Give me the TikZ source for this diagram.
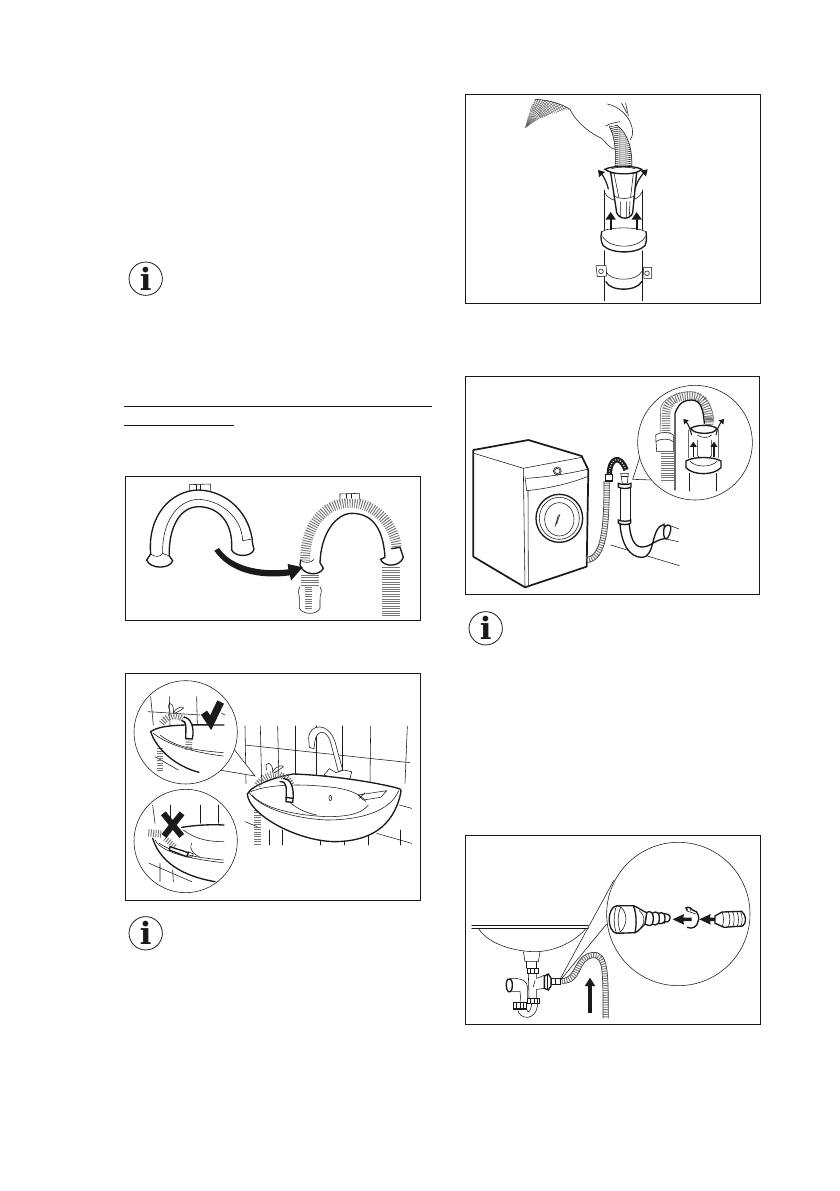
\documentclass[tikz,border=0pt]{standalone}
\usepackage{fontspec}
\usetikzlibrary{arrows.meta}
\newfontfamily\iconfont{DejaVu Serif}
\definecolor{Ink}{HTML}{1A1A1A}
\tikzset{
  frame/.style={draw=Ink,line width=0.75pt},
  thick line/.style={draw=Ink,line width=1.0pt,line cap=round},
  thinline/.style={draw=Ink,line width=0.42pt,line cap=round},
  hairline/.style={draw=Ink!70,line width=0.3pt},
  ribs/.style={draw=Ink!60,line width=#1,dash pattern=on 0.7pt off 1.1pt},
  blackarrow/.style={draw=Ink,line width=#1,-{Triangle[length=2.2mm,width=2.6mm]}},
  infoicon/.style={circle,draw=Ink,line width=0.6pt,minimum size=25pt,inner sep=0pt,text=Ink,
    font=\iconfont\bfseries\fontsize{23}{23}\selectfont},
  crop/.style 2 args={shift={(#1,#2)},x=0.25pt,y=-0.25pt}
}
\begin{document}
\begin{tikzpicture}[x=0.75pt,y=-0.75pt,>=stealth]
\useasboundingbox (0,0) rectangle (839,1191);
\node[infoicon] (infoA) at (145.7,278.7) {i};
\node[infoicon] (infoB) at (145.7,933.3) {i};
\node[infoicon] (infoC) at (485.7,628.3) {i};
\draw[line width=0.6pt,Ink] (124.3,406) -- (431.7,406);
\draw[line width=0.6pt,Ink] (124.3,425.3) -- (234,425.3);
% hose bend, loose and mounted
\begin{scope}[crop={120}{470}]
\draw[frame] (17,18) rectangle (900,452);
\draw[thinline,fill=white] (208,60) -- (208,44) -- (272,42) -- (272,62);
\draw[thinline] (228,44) -- (228,60) (240,44) -- (240,60);
\draw[thick line,fill=white] (92,252) .. controls (82,140) and (150,62) .. (235,60) .. controls (320,62) and (392,130) .. (398,222) -- (402,238) .. controls (395,262) and (345,262) .. (335,240) .. controls (340,150) and (290,110) .. (235,110) .. controls (170,112) and (145,190) .. (148,258) -- (158,272) .. controls (150,298) and (90,298) .. (80,270) -- cycle;
\draw[thinline] (128,250) .. controls (125,160) and (170,90) .. (235,88) .. controls (300,90) and (365,140) .. (368,212) -- (392,208);
\draw[thinline] (92,252) .. controls (105,262) and (120,262) .. (128,250) -- (148,258);
\draw[ribs=7.5pt] (555,272) .. controls (555,170) and (610,98) .. (690,98) .. controls (770,98) and (825,170) .. (830,232);
\draw[thinline,fill=white] (660,85) -- (660,72) -- (718,70) -- (718,88);
\draw[thinline] (680,72) -- (680,85) (695,72) -- (695,85);
\draw[thick line] (600,285) .. controls (600,190) and (650,130) .. (695,130) .. controls (760,130) and (790,180) .. (795,262);
\draw[thick line,fill=white] (542,270) -- (540,285) .. controls (550,318) and (600,318) .. (610,295) -- (600,278);
\draw[thinline] (542,270) .. controls (550,280) and (575,280) .. (582,268);
\draw[thick line,fill=white] (795,262) -- (782,268) .. controls (790,292) and (840,292) .. (850,262) -- (840,232) -- (815,236);
\draw[ribs=14pt] (570,315) -- (570,350);
\draw[thinline,fill=white] (540,350) .. controls (530,365) and (540,375) .. (538,390) -- (538,415) .. controls (550,435) and (590,435) .. (600,415) -- (600,390) .. controls (598,375) and (610,365) .. (600,350);
\draw[ribs=5.6pt] (565,350) -- (565,420);
\draw[ribs=13.5pt] (812,292) -- (812,438);
\fill[Ink] (283,242) -- (297,234) .. controls (335,290) and (420,308) .. (505,298) -- (503,282) -- (548,292) -- (513,332) -- (510,316) .. controls (420,328) and (330,310) .. cycle;
\end{scope}
% basin with two close-ups
\begin{scope}[crop={120}{670}]
\draw[frame] (16,11) rectangle (900,690);
% tiles
\foreach \xa/\xb in {375/378,421/425,473/477,527/527,590/590,668/668,752/750,862/855} \draw[thinline] (\xa,168) -- (\xb,340);
\draw[thinline] (375,225) -- (870,278);
\draw[thinline] (838,405) -- (875,415) (375,455) -- (412,470) (770,490) -- (875,520);
\foreach \xa in {447,487,600,672,745,840} \draw[thinline] (\xa,480) -- (\xa,525);
\draw[ribs=5pt] (412,420) -- (412,525);
% tap
\draw[thinline,fill=white] (568,232) -- (566,205) .. controls (568,160) and (625,155) .. (645,215) -- (668,300) -- (655,305) -- (632,218) .. controls (620,175) and (590,180) .. (585,212) -- (582,236) -- cycle;
\draw[thinline,fill=white] (612,315) -- (628,296) -- (648,308) -- (672,300) -- (695,305) -- (690,325) -- (675,345) -- (650,348) -- (640,325) -- cycle;
\draw[thick line,fill=white] (382,372) .. controls (395,345) and (470,320) .. (520,312) .. controls (620,315) and (760,335) .. (835,355) .. controls (845,358) and (844,362) .. (842,370) .. controls (820,470) and (750,515) .. (640,515) .. controls (520,510) and (385,430) .. (382,372) -- cycle;
\draw[thinline] (388,368) .. controls (420,415) and (520,445) .. (620,450) .. controls (720,450) and (810,425) .. (836,362);
\draw[thinline] (396,375) .. controls (430,415) and (520,435) .. (620,440) .. controls (700,440) and (730,425) .. (745,405);
\draw[thinline] (392,365) .. controls (440,345) and (530,340) .. (620,350) .. controls (680,355) and (720,370) .. (738,395);
\draw[thinline] (500,385) .. controls (515,410) and (560,430) .. (590,435);
\draw[thinline] (715,375) -- (800,362) -- (782,382) -- (730,390) -- cycle (735,368) -- (718,385);
\draw[thinline] (631,384) ellipse (4 and 8);
\draw[ribs=5pt] (412,345) .. controls (440,305) and (490,300) .. (515,345);
\draw[thinline] (440,300) .. controls (430,270) and (460,275) .. (458,305) .. controls (470,285) and (490,285) .. (490,290) .. controls (480,298) and (470,305) .. (462,308);
\draw[thick line,fill=white] (480,335) .. controls (500,335) and (500,345) .. (498,395) -- (518,397) .. controls (525,350) and (510,325) .. (490,325);
\draw[thick line] (498,382) -- (518,385);
% top close-up
\draw[thinline,fill=white] (340,235) -- (405,318) -- (298,300);
\fill[white] (197,187) circle (155);
\draw[thinline] (197,187) circle (155);
\foreach \xa/\xb in {92/100,148/150,230/232} \draw[thinline] (\xa,80) -- (\xb,165);
\draw[thinline] (85,125) -- (240,135) (105,260) -- (175,300) (305,130) -- (315,135);
\draw[ribs=5pt] (120,235) -- (120,300);
\draw[ribs=5pt] (125,160) .. controls (150,125) and (185,135) .. (205,160);
\draw[thinline] (150,125) .. controls (135,90) and (165,95) .. (160,128) .. controls (175,105) and (195,110) .. (190,115) .. controls (180,122) and (170,128) .. (162,130);
\draw[thick line] (92,185) .. controls (125,160) and (220,165) .. (312,165);
\draw[thick line] (92,185) .. controls (110,240) and (170,290) .. (237,307);
\draw[thinline] (100,190) .. controls (150,230) and (240,250) .. (310,258);
\draw[thinline] (120,195) .. controls (170,235) and (240,242) .. (310,248);
\draw[thick line,fill=white] (186,152) .. controls (200,152) and (198,170) .. (197,205) -- (217,207) .. controls (225,170) and (210,142) .. (192,142);
\draw[ribs=5pt] (207,208) -- (206,240);
\draw[Ink,line width=5.5pt,miter limit=3] (252,128) -- (272,158) -- (302,96);
% bottom close-up
\fill[white] (197,513) circle (155);
\draw[thinline] (197,513) circle (155);
\foreach \xa/\xb in {98/105,150/150,240/240,295/295} \draw[thinline] (\xa,405) -- (\xb,460);
\draw[thinline] (88,580) -- (215,635) (120,580) -- (120,635) (158,600) -- (160,635);
\draw[ribs=5.5pt] (85,488) -- (125,492);
\draw[thick line] (185,472) .. controls (230,465) and (270,463) .. (312,465);
\draw[thick line] (98,505) .. controls (125,590) and (210,622) .. (285,635);
\draw[thinline] (190,480) .. controls (230,510) and (270,515) .. (312,515);
\draw[thinline] (105,510) .. controls (130,555) and (240,570) .. (310,578);
\draw[thinline] (118,520) .. controls (170,555) and (250,565) .. (310,570);
\draw[thinline] (215,520) .. controls (205,540) and (225,555) .. (238,560);
\draw[ribs=4pt] (135,505) -- (165,530);
\draw[thick line,fill=white] (150,530) -- (205,548) -- (200,560) -- (148,540) -- cycle;
\draw[thinline] (205,545) -- (220,552) -- (215,562) -- (200,558);
\draw[Ink,line width=4.6pt] (130,430) -- (185,498) (186,430) -- (132,498);
\end{scope}
% drain pipe with hook
\begin{scope}[crop={460}{90}]
\draw[frame] (16,13) rectangle (902,640);
\begin{scope}
\clip (197,112) .. controls (205,70) and (215,45) .. (225,28) .. controls (270,30) and (305,42) .. (330,58) .. controls (280,65) and (235,85) .. cycle;
\foreach \a in {-78,-74,...,-2} \draw[hairline] (197,112) -- ++(\a:170);
\foreach \r in {55,61,...,150} \draw[hairline] (197,112) circle (\r);
\end{scope}
\draw[thinline] (225,28) .. controls (270,30) and (305,42) .. (330,58) .. controls (345,90) and (380,125) .. (425,145) .. controls (440,160) and (450,175) .. (465,178);
\draw[thinline] (442,42) .. controls (480,50) and (505,80) .. (512,100) .. controls (522,125) and (518,140) .. (510,150);
\draw[thinline] (485,40) -- (500,68) (497,40) -- (505,78) (437,108) .. controls (450,100) and (465,98) .. (480,95);
\begin{scope}
\clip (447,108) .. controls (465,140) and (468,180) .. (465,232) -- (515,232) .. controls (518,180) and (505,130) .. (470,105) -- cycle;
\foreach \y in {98,104,...,236} \draw[thinline] (440,\y) .. controls (470,\y+14) and (510,\y+14) .. (530,\y);
\end{scope}
\draw[thinline] (447,108) .. controls (465,140) and (468,180) .. (465,232) (470,105) .. controls (505,130) and (518,180) .. (515,232);
\draw[thinline] (434,300) -- (434,420) (547,300) -- (547,420);
\draw[thinline] (432,305) .. controls (450,345) and (530,345) .. (547,305);
\draw[thick line,fill=white] (452,248) -- (470,368) .. controls (478,390) and (512,390) .. (518,368) -- (530,248) -- cycle;
\draw[thinline] (462,250) -- (476,320) (520,250) -- (512,320) (460,318) .. controls (480,328) and (505,328) .. (525,318);
\draw[thinline] (482,335) -- (482,382) (500,335) -- (500,382) (510,335) -- (508,380);
\draw[thick line,fill=white] (435,238) .. controls (455,226) and (525,226) .. (545,238) .. controls (530,256) and (455,256) .. cycle;
\draw[thinline] (455,236) .. controls (475,230) and (505,230) .. (525,236);
\draw[Ink,line width=1.3pt,->,>={Triangle[length=2mm,width=2.6mm]}] (452,420) -- (452,366);
\draw[Ink,line width=1.3pt,->,>={Triangle[length=2mm,width=2.6mm]}] (530,420) -- (530,366);
\draw[Ink,line width=0.9pt,->,>={Triangle[length=1.6mm,width=2mm]}] (445,298) .. controls (440,275) and (430,258) .. (414,240);
\draw[Ink,line width=0.9pt,->,>={Triangle[length=1.6mm,width=2mm]}] (525,298) .. controls (530,275) and (545,255) .. (563,238);
\draw[thinline] (425,425) .. controls (450,410) and (530,410) .. (558,425);
\draw[thinline] (428,440) .. controls (450,478) and (535,478) .. (556,440);
\draw[thick line] (425,425) .. controls (420,445) and (425,460) .. (430,467) .. controls (455,492) and (530,492) .. (555,467) .. controls (560,455) and (560,440) .. (558,425);
\draw[thinline] (434,482) -- (434,632) (546,482) -- (546,632);
\draw[thinline,fill=white] (408,527) -- (438,527) -- (440,558) -- (412,560) -- cycle (550,532) -- (575,532) -- (575,565) -- (552,565) -- cycle;
\draw[thinline] (423,544) circle (7) (561,550) circle (7);
\draw[thinline] (438,545) .. controls (450,575) and (530,575) .. (545,545);
\draw[thick line] (438,575) .. controls (450,605) and (530,605) .. (545,575);
\end{scope}
% washing machine
\begin{scope}[crop={460}{370}]
\draw[frame] (16,18) rectangle (898,672);
\draw[Ink,line width=1.3pt,line join=round,fill=white] (40,240) -- (205,210) -- (365,258) -- (385,300) -- (380,590) -- (195,652) -- (40,560) -- cycle;
\draw[thinline] (42,250) -- (190,295) -- (365,262);
\draw[thinline] (190,295) -- (195,650) (204,362) -- (205,645);
\draw[thinline] (195,320) -- (200,362) .. controls (270,355) and (330,340) .. (382,320);
\draw[thinline] (200,325) .. controls (270,320) and (330,310) .. (382,298);
\draw[thinline] (292,303) circle (12) (292,303) circle (8);
\draw[thick line] (298,445) ellipse (70 and 72);
\draw[thinline] (298,445) ellipse (60 and 63);
\draw[thinline] (298,448) ellipse (44 and 50);
\draw[thinline] (295,435) -- (285,470) (300,432) -- (290,462);
\end{scope}
% standpipe, trap and hose
\begin{scope}[crop={600}{445}]
\draw[thinline] (32,300) -- (238,362);
\draw[thick line,fill=white] (60,238) .. controls (65,300) and (90,337) .. (125,337) .. controls (168,337) and (150,248) .. (192,238) -- (198,280) .. controls (160,285) and (155,306) .. (125,306) .. controls (100,306) and (90,270) .. (88,238) -- cycle;
\draw[thinline] (205,240) -- (237,252) (198,282) -- (235,290);
\draw[thick line,fill=white] (192,250) .. controls (195,240) and (208,236) .. (212,245) .. controls (215,255) and (205,282) .. (198,282) .. controls (190,280) and (190,262) .. (192,250) -- cycle;
\draw[thinline] (60,130) -- (60,225) (90,130) -- (90,225);
\draw[thick line,fill=white] (55,225) .. controls (65,230) and (85,230) .. (92,225) -- (92,234) .. controls (85,240) and (65,240) .. (55,234) -- cycle;
\draw[thick line,fill=white] (55,115) .. controls (65,120) and (85,120) .. (93,115) -- (93,126) .. controls (85,132) and (65,132) .. (55,126) -- cycle;
\draw[thinline,fill=white] (62,85) -- (85,85) -- (82,115) -- (67,115) -- cycle;
\draw[thinline] (64,95) -- (84,95);
\draw[ribs=4.5pt] (-40,345) .. controls (12,340) and (20,250) .. (20,108);
\draw[Ink!80,line width=0.5pt] (-40,337) .. controls (4,332) and (12,250) .. (12,108) (-40,353) .. controls (20,348) and (28,250) .. (28,108);
\draw[Ink,line width=4pt] (28,88) .. controls (28,40) and (60,25) .. (78,75);
\draw[white,line width=0.8pt,dash pattern=on 0.8pt off 1.2pt] (28,88) .. controls (28,40) and (60,25) .. (78,75);
\draw[thick line,fill=white] (17,88) -- (38,88) -- (38,108) -- (17,108) -- cycle;
\end{scope}
% callout on the standpipe
\begin{scope}[crop={460}{370}]
\draw[thinline,fill=white] (540,260) -- (518,328) -- (578,330);
\fill[white] (705,218) circle (172);
\draw[thinline] (705,218) circle (172);
\end{scope}
\begin{scope}[crop={640}{385}]
\draw[ribs=6.6pt] (78,145) -- (78,90) .. controls (80,35) and (125,32) .. (155,32) .. controls (195,32) and (205,70) .. (207,112);
\draw[Ink!70,line width=0.4pt] (60,145) -- (62,70) .. controls (65,45) and (110,20) .. (150,20) .. controls (200,22) and (220,70) .. (222,112);
\draw[ribs=10pt] (82,205) -- (82,285);
\draw[thick line] (105,315) -- (105,85) .. controls (118,50) and (135,45) .. (155,45) .. controls (185,45) and (190,80) .. (193,115);
\draw[thinline,fill=white] (47,150) .. controls (60,140) and (90,140) .. (100,150) -- (100,200) -- (50,200) -- cycle;
\draw[thinline] (47,170) .. controls (60,160) and (90,160) .. (100,170);
\draw[thinline] (145,135) -- (145,218) (236,135) -- (236,218) (172,165) -- (172,212) .. controls (180,225) and (205,225) .. (215,212) -- (215,165);
\draw[thick line,fill=white] (152,130) .. controls (170,118) and (215,118) .. (230,130) .. controls (228,150) and (160,150) .. cycle;
\draw[thinline] (172,150) .. controls (185,160) and (205,160) .. (215,150);
\draw[ribs=6pt] (207,95) -- (208,122);
\draw[thick line,fill=white] (138,228) .. controls (160,214) and (220,214) .. (243,228) -- (243,248) .. controls (220,272) and (160,272) .. (138,248) -- cycle;
\draw[thinline] (150,228) .. controls (165,248) and (215,248) .. (232,228);
\draw[thinline] (148,265) -- (148,318) (230,265) -- (230,318);
\draw[Ink,line width=1pt,->,>={Triangle[length=1.4mm,width=1.8mm]}] (160,215) -- (160,170);
\draw[Ink,line width=1pt,->,>={Triangle[length=1.4mm,width=1.8mm]}] (222,215) -- (222,170);
\draw[Ink,line width=0.8pt,->,>={Triangle[length=1.2mm,width=1.6mm]}] (155,150) .. controls (150,130) and (145,118) .. (130,102);
\draw[Ink,line width=0.8pt,->,>={Triangle[length=1.2mm,width=1.6mm]}] (228,150) .. controls (232,130) and (238,118) .. (252,102);
\end{scope}
% hose into the basin trap
\begin{scope}[crop={460}{830}]
\draw[frame] (16,15) rectangle (900,582);
\draw[thinline] (35,285) -- (385,285) (35,295) -- (385,295);
\draw[thinline] (55,295) .. controls (90,350) and (180,365) .. (225,365) .. controls (290,365) and (350,330) .. (378,295);
\draw[ribs=3.8pt] (305,452) .. controls (360,455) and (345,380) .. (400,375) .. controls (437,375) and (437,420) .. (437,565);
\draw[Ink!85,line width=0.5pt] (305,445) .. controls (350,448) and (340,372) .. (400,367) .. controls (445,367) and (445,420) .. (445,565);
\draw[Ink!85,line width=0.5pt] (305,460) .. controls (370,462) and (350,388) .. (400,383) .. controls (429,383) and (429,420) .. (429,565);
\draw[blackarrow=2.7pt] (390,549) -- (390,443);
\end{scope}
\begin{scope}[crop={495}{950}]
\draw[thinline] (85,5) -- (90,35) (135,5) -- (130,35) (90,35) -- (130,35);
\draw[thinline] (95,35) -- (95,55) (125,35) -- (125,55);
\draw[thinline] (100,70) -- (102,145) (125,70) -- (125,85) (125,118) -- (125,145);
\draw[thinline] (125,85) -- (150,75) (125,118) -- (150,115) (120,92) -- (115,110);
\draw[thick line,fill=white] (97,56) -- (130,56) -- (130,70) -- (97,70) -- cycle;
\foreach \xa in {107,118} \draw[thinline] (\xa,56) -- (\xa,70);
\draw[thick line,fill=white] (148,78) -- (160,72) -- (168,84) -- (168,108) -- (160,120) -- (148,115) -- cycle;
\draw[thinline] (156,74) -- (156,118);
\draw[thinline,fill=white] (168,85) -- (195,85) -- (195,102) -- (168,102) -- cycle (182,85) -- (182,102);
\draw[thick line,fill=white] (38,88) .. controls (48,84) and (52,92) .. (52,105) .. controls (52,120) and (48,128) .. (40,125) .. controls (32,118) and (32,95) .. (38,88) -- cycle;
\draw[thinline] (45,85) .. controls (75,83) and (98,92) .. (98,112) -- (98,145);
\draw[thinline] (50,125) -- (75,125) -- (78,157);
\draw[thinline] (68,178) .. controls (70,208) and (125,218) .. (128,160);
\draw[thinline] (95,178) .. controls (98,192) and (108,186) .. (110,160);
\draw[thick line,fill=white] (55,158) -- (95,158) -- (95,177) -- (55,177) -- cycle;
\foreach \xa in {65,75,85} \draw[thinline] (\xa,158) -- (\xa,177);
\draw[thick line,fill=white] (97,146) -- (133,146) -- (133,160) -- (97,160) -- cycle;
\foreach \xa in {107,117,126} \draw[thinline] (\xa,146) -- (\xa,160);
\end{scope}
% callout on the hose connector
\begin{scope}[crop={460}{830}]
\draw[thinline] (300,448) -- (462,150) (300,452) -- (440,282);
\fill[white] (655,252) circle (215);
\draw[thinline] (655,252) circle (215);
\end{scope}
\begin{scope}[crop={600}{890}]
\draw[thick line,fill=white] (140,68) .. controls (148,62) and (153,66) .. (157,70) .. controls (165,64) and (170,66) .. (175,70) .. controls (183,66) and (188,68) .. (192,72) .. controls (205,70) and (212,78) .. (210,85) .. controls (208,95) and (200,98) .. (192,96) .. controls (188,102) and (180,102) .. (175,100) .. controls (170,106) and (162,106) .. (157,102) .. controls (150,110) and (145,106) .. (135,102) -- cycle;
\foreach \xa in {157,175,192} \draw[thick line] (\xa,70) .. controls (\xa+4,80) and (\xa+4,92) .. (\xa,100);
\draw[thick line,fill=white] (50,47) -- (100,47) .. controls (115,52) and (125,62) .. (140,68) -- (135,102) .. controls (125,110) and (115,125) .. (105,128) -- (50,130) .. controls (20,125) and (20,52) .. (50,47) -- cycle;
\draw[thinline] (50,47) .. controls (40,70) and (40,110) .. (50,130) .. controls (68,130) and (78,100) .. (78,88) .. controls (78,70) and (68,47) .. (50,47);
\draw[thinline] (62,52) .. controls (52,75) and (52,105) .. (62,127);
\draw[thick line] (100,47) .. controls (110,70) and (110,105) .. (105,128);
\draw[thinline] (118,62) .. controls (135,75) and (135,95) .. (125,112);
\fill[Ink] (218,88) -- (252,72) -- (250,83) -- (275,83) -- (275,93) -- (250,93) -- (252,104) -- cycle;
\draw[thick line] (262,60) .. controls (248,50) and (270,48) .. (278,60) .. controls (298,62) and (298,90) .. (295,92);
\draw[thick line] (262,112) .. controls (275,118) and (292,112) .. (295,92);
\draw[thinline] (258,62) -- (288,72) (272,52) -- (272,62);
\fill[Ink] (298,88) -- (332,72) -- (330,83) -- (352,83) -- (352,93) -- (330,93) -- (332,104) -- cycle;
\draw[thick line,fill=white] (345,78) .. controls (352,70) and (362,72) .. (366,66) -- (425,64) .. controls (440,75) and (440,100) .. (428,108) -- (372,112) .. controls (362,108) and (352,102) .. (345,100) -- cycle;
\foreach \xa in {366,385,398,411,422} \draw[thinline] (\xa,66) .. controls (\xa+6,80) and (\xa+6,98) .. (\xa,110);
\end{scope}
\end{tikzpicture}
\end{document}
